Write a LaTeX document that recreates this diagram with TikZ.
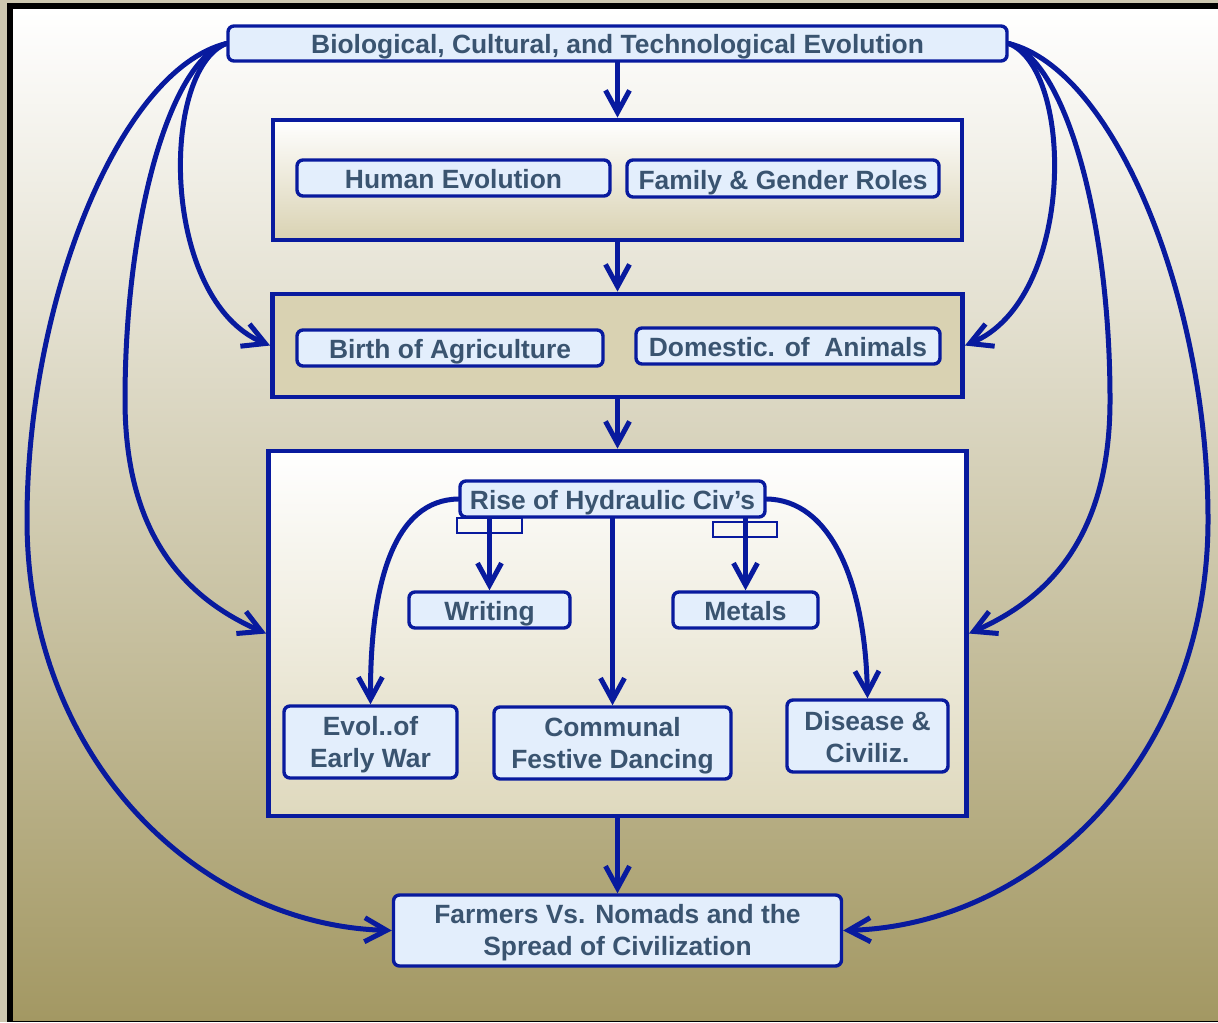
\documentclass[tikz,border=0pt]{standalone}
\usepackage{fontspec}
\setmainfont{Liberation Sans}
\usetikzlibrary{arrows.meta}
\definecolor{civblue}{RGB}{8,26,158}
\definecolor{civtext}{RGB}{58,84,112}
\definecolor{civfill}{RGB}{227,238,252}
\definecolor{sandlight}{RGB}{222,217,196}
\definecolor{sanddark}{RGB}{163,152,99}
\definecolor{sandpanel}{RGB}{217,210,178}
\definecolor{sandframe}{RGB}{205,199,176}
\newcommand\topstrut{\rule{0pt}{12pt}}
\newcommand\botstrut{\rule[-1.2pt]{0pt}{1.2pt}}

\begin{document}
\begin{tikzpicture}[x=0.5pt,y=-0.5pt]
  \tikzstyle{panel}=[draw=civblue,line width=2.4pt,inner sep=0pt]
  \tikzstyle{item}=[draw=civblue,line width=1.7pt,rounded corners=3pt,fill=civfill,
    align=center,text=civtext,inner sep=0pt,font=\fontsize{13.2}{16}\selectfont\bfseries]
  \tikzstyle{one}=[item,text height=11pt,text depth=0.5pt]
  \tikzstyle{tag}=[draw=civblue,line width=0.8pt,minimum height=7.5pt,inner sep=0pt]
  \tikzstyle{f}=[-{Straight Barb[length=11pt,width=12pt]},civblue,line width=2.5pt,line cap=round]

  % -- background --
  \useasboundingbox (0,0) rectangle (1218,1022);
  \fill[sandframe] (0,0) rectangle (1218,1022);
  \fill[black] (7,3) rectangle (1218,1022);
  \shade[top color=white,middle color=sandlight,bottom color=sanddark] (13,10) rectangle (1218,1020);

  % -- stages --
  \node[panel,minimum width=344.5pt,minimum height=60pt,top color=white,bottom color=sandpanel] (stage1) at (617.5,180) {};
  \node[panel,minimum width=345pt,minimum height=51.5pt,fill=sandpanel] (stage2) at (617.5,345.5) {};
  \node[panel,minimum width=349pt,minimum height=182.5pt,top color=white,bottom color=sandpanel!85!white] (stage3) at (617.5,633.5) {};

  % -- topics --
  \node[one,minimum width=389.5pt,minimum height=17.5pt] (evo) at (617.5,43.5) {Biological, Cultural, and Technological Evolution};
  \node[one,minimum width=156.5pt,minimum height=18pt] (human) at (453.5,178) {Human Evolution};
  \node[one,minimum width=156pt,minimum height=18.5pt] (family) at (783,178.5) {Family \& Gender Roles};
  \node[one,minimum width=153pt,minimum height=18pt] (agri) at (450,348) {Birth of Agriculture};
  \node[one,minimum width=152pt,minimum height=18pt] (animals) at (788,346) {Domestic. of~ Animals};
  \node[one,minimum width=152.5pt,minimum height=18pt] (hydro) at (612.5,499) {Rise of Hydraulic Civ’s};
  \node[tag,minimum width=32.5pt] (tagw) at (489.5,525.5) {};
  \node[tag,minimum width=32pt] (tagm) at (745,529.5) {};
  \node[one,minimum width=80.5pt,minimum height=18pt] (writing) at (489.5,610) {Writing};
  \node[one,minimum width=72.5pt,minimum height=18pt] (metals) at (745.5,610) {Metals};
  \node[item,minimum width=86.5pt,minimum height=36pt] (war) at (370.5,742) {\topstrut Evol..of\\Early War\botstrut};
  \node[item,minimum width=118.5pt,minimum height=36pt] (dance) at (612.5,743) {\topstrut Communal\\Festive Dancing\botstrut};
  \node[item,minimum width=80.5pt,minimum height=36pt] (disease) at (867.5,736) {\topstrut Disease \&\\Civiliz.\botstrut};
  \node[item,minimum width=224pt,minimum height=35.5pt] (nomads) at (617.5,930.5) {\topstrut Farmers Vs. Nomads and the\\Spread of Civilization\botstrut};

  % -- main chain --
  \draw[f] (evo.south) -- (stage1.north);
  \draw[f] (stage1.south) -- (stage2.north);
  \draw[f] (stage2.south) -- (stage3.north);
  \draw[f] (stage3.south) -- (nomads.north);

  % -- hydraulic branches --
  \draw[f] (hydro.south -| writing.north) -- (writing.north);
  \draw[f] (hydro.south -| metals.north) -- (metals.north);
  \draw[f] (hydro.south) -- (dance.north);
  \draw[f] (hydro.west) .. controls (395,500) and (370,580) .. (war.north);
  \draw[f] (hydro.east) .. controls (830,500) and (865,580) .. (disease.north);

  % -- long links, left --
  \draw[f] (evo.west) .. controls (160,70) and (160,300) .. (stage2.west);
  \draw[f] (evo.west) .. controls (170,60) and (125,220) .. (125,400) .. controls (125,540) and (190,600) .. (stage3.west);
  \draw[f] (evo.west) .. controls (120,70) and (27,300) .. (27,520) .. controls (27,760) and (200,925) .. (nomads.west);

  % -- long links, right --
  \draw[f] (evo.east) .. controls (1075,70) and (1075,300) .. (stage2.east);
  \draw[f] (evo.east) .. controls (1065,60) and (1110,220) .. (1110,400) .. controls (1110,540) and (1045,600) .. (stage3.east);
  \draw[f] (evo.east) .. controls (1115,70) and (1208,300) .. (1208,520) .. controls (1208,760) and (1035,925) .. (nomads.east);
\end{tikzpicture}
\end{document}
